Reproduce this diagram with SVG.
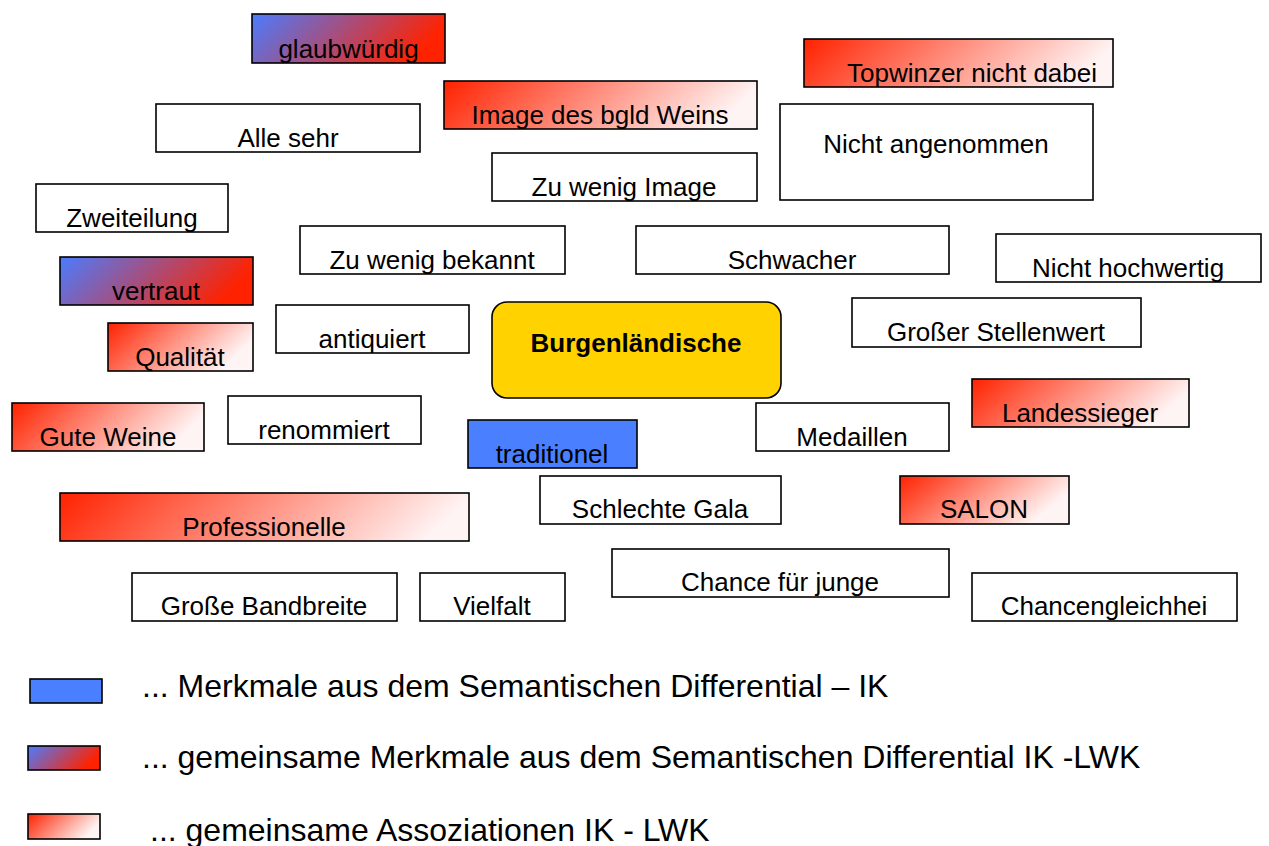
<svg xmlns="http://www.w3.org/2000/svg" width="1269" height="846" viewBox="0 0 1269 846">
<style>
.b{stroke:#000;stroke-width:1.6}
.w{fill:#fff}
.bl{fill:#4a80ff}
.t{font-family:"Liberation Sans",Arial,sans-serif;font-size:26px;fill:#000;text-anchor:middle}
.bold{font-weight:bold}
.lg{font-family:"Liberation Sans",Arial,sans-serif;font-size:32px;fill:#000}
.rs{stop-color:#ff2200}
.re{stop-color:#fff4f4}
.ps{stop-color:#4a7cff}
.pe{stop-color:#ff2200}
</style>
<defs>
<linearGradient id="r35" x1="0" y1="0" x2="1" y2="0.35"><stop offset="0" class="rs"/><stop offset="1" class="re"/></linearGradient>
<linearGradient id="r25" x1="0" y1="0" x2="1" y2="0.25"><stop offset="0" class="rs"/><stop offset="1" class="re"/></linearGradient>
<linearGradient id="r16" x1="0" y1="0" x2="1" y2="0.16"><stop offset="0" class="rs"/><stop offset="1" class="re"/></linearGradient>
<linearGradient id="r12" x1="0" y1="0" x2="1" y2="0.12"><stop offset="0" class="rs"/><stop offset="1" class="re"/></linearGradient>
<linearGradient id="p25" x1="0" y1="0" x2="1" y2="0.25"><stop offset="0" class="ps"/><stop offset="1" class="pe"/></linearGradient>
<linearGradient id="p35" x1="0" y1="0" x2="1" y2="0.35"><stop offset="0" class="ps"/><stop offset="1" class="pe"/></linearGradient>
<clipPath id="c1"><rect x="252" y="14" width="193" height="49"/></clipPath>
<clipPath id="c2"><rect x="804" y="39" width="309" height="48"/></clipPath>
<clipPath id="c4"><rect x="444" y="81" width="313" height="48"/></clipPath>
<clipPath id="c6"><rect x="492" y="153" width="265" height="48"/></clipPath>
<clipPath id="c7"><rect x="36" y="184" width="192" height="48"/></clipPath>
<clipPath id="c8"><rect x="300" y="226" width="265" height="48"/></clipPath>
<clipPath id="c10"><rect x="996" y="234" width="265" height="48"/></clipPath>
<clipPath id="c13"><rect x="276" y="305" width="193" height="48"/></clipPath>
<clipPath id="c20"><rect x="972" y="379" width="217" height="48"/></clipPath>
<clipPath id="c26"><rect x="612" y="549" width="337" height="48"/></clipPath>
<clipPath id="c27"><rect x="972" y="573" width="265" height="48"/></clipPath>
</defs>
<rect width="1269" height="846" fill="#fff"/>
<g id="connectors"/>
<g id="n-glaubwuerdig"><rect class="b" fill="url(#p25)" x="252" y="14" width="193" height="49"/><text class="t" x="348.5" y="58" clip-path="url(#c1)">glaubwürdig</text></g>
<g id="n-topwinzer"><rect class="b" fill="url(#r16)" x="804" y="39" width="309" height="48"/><text class="t" x="972" y="82" clip-path="url(#c2)">Topwinzer nicht dabei</text></g>
<g id="n-allesehr"><rect class="b w" x="156" y="104" width="264" height="48"/><text class="t" x="288" y="147">Alle sehr</text></g>
<g id="n-image"><rect class="b" fill="url(#r16)" x="444" y="81" width="313" height="48"/><text class="t" x="600" y="124" clip-path="url(#c4)">Image des bgld Weins</text></g>
<g id="n-nichtangenommen"><rect class="b w" x="780" y="104" width="313" height="96"/><text class="t" x="936" y="153">Nicht angenommen</text></g>
<g id="n-zuwenigimage"><rect class="b w" x="492" y="153" width="265" height="48"/><text class="t" x="624" y="196" clip-path="url(#c6)">Zu wenig Image</text></g>
<g id="n-zweiteilung"><rect class="b w" x="36" y="184" width="192" height="48"/><text class="t" x="132" y="227" clip-path="url(#c7)">Zweiteilung</text></g>
<g id="n-zuwenigbekannt"><rect class="b w" x="300" y="226" width="265" height="48"/><text class="t" x="432" y="269" clip-path="url(#c8)">Zu wenig bekannt</text></g>
<g id="n-schwacher"><rect class="b w" x="636" y="226" width="313" height="48"/><text class="t" x="792" y="269">Schwacher</text></g>
<g id="n-nichthochwertig"><rect class="b w" x="996" y="234" width="265" height="48"/><text class="t" x="1128" y="277" clip-path="url(#c10)">Nicht hochwertig</text></g>
<g id="n-vertraut"><rect class="b" fill="url(#p25)" x="60" y="257" width="193" height="48"/><text class="t" x="156" y="300">vertraut</text></g>
<g id="n-qualitaet"><rect class="b" fill="url(#r35)" x="108" y="323" width="145" height="48"/><text class="t" x="180" y="366">Qualität</text></g>
<g id="n-antiquiert"><rect class="b w" x="276" y="305" width="193" height="48"/><text class="t" x="372" y="348" clip-path="url(#c13)">antiquiert</text></g>
<g id="n-burgenlaendische"><rect class="b" fill="#ffd200" x="492" y="302" width="289" height="96" rx="15"/><text class="t bold" x="636" y="352">Burgenländische</text></g>
<g id="n-stellenwert"><rect class="b w" x="852" y="298" width="289" height="49"/><text class="t" x="996" y="341">Großer Stellenwert</text></g>
<g id="n-guteweine"><rect class="b" fill="url(#r25)" x="12" y="403" width="192" height="48"/><text class="t" x="108" y="446">Gute Weine</text></g>
<g id="n-renommiert"><rect class="b w" x="228" y="396" width="193" height="48"/><text class="t" x="324" y="439">renommiert</text></g>
<g id="n-traditionel"><rect class="b bl" x="468" y="420" width="169" height="48"/><text class="t" x="552" y="463">traditionel</text></g>
<g id="n-medaillen"><rect class="b w" x="756" y="403" width="193" height="48"/><text class="t" x="852" y="446">Medaillen</text></g>
<g id="n-landessieger"><rect class="b" fill="url(#r25)" x="972" y="379" width="217" height="48"/><text class="t" x="1080" y="422" clip-path="url(#c20)">Landessieger</text></g>
<g id="n-professionelle"><rect class="b" fill="url(#r12)" x="60" y="493" width="409" height="48"/><text class="t" x="264" y="536">Professionelle</text></g>
<g id="n-schlechtegala"><rect class="b w" x="540" y="476" width="241" height="48"/><text class="t" x="660" y="518">Schlechte Gala</text></g>
<g id="n-salon"><rect class="b" fill="url(#r35)" x="900" y="476" width="169" height="48"/><text class="t" x="984" y="518">SALON</text></g>
<g id="n-bandbreite"><rect class="b w" x="132" y="573" width="265" height="48"/><text class="t" x="264" y="615">Große Bandbreite</text></g>
<g id="n-vielfalt"><rect class="b w" x="420" y="573" width="145" height="48"/><text class="t" x="492" y="615">Vielfalt</text></g>
<g id="n-chance"><rect class="b w" x="612" y="549" width="337" height="48"/><text class="t" x="780" y="591" clip-path="url(#c26)">Chance für junge</text></g>
<g id="n-chancengleichheit"><rect class="b w" x="972" y="573" width="265" height="48"/><text class="t" x="1104" y="615" clip-path="url(#c27)">Chancengleichhei</text></g>
<g id="legend">
<rect class="b bl" x="30" y="679" width="72" height="24"/>
<text class="lg" x="142" y="697">... Merkmale aus dem Semantischen Differential – IK</text>
<rect class="b" fill="url(#p35)" x="28" y="746" width="72" height="24"/>
<text class="lg" x="142" y="768">... gemeinsame Merkmale aus dem Semantischen Differential IK -LWK</text>
<rect class="b" fill="url(#r35)" x="28" y="814" width="72" height="25"/>
<text class="lg" x="150" y="841">... gemeinsame Assoziationen IK - LWK</text>
</g>
</svg>
